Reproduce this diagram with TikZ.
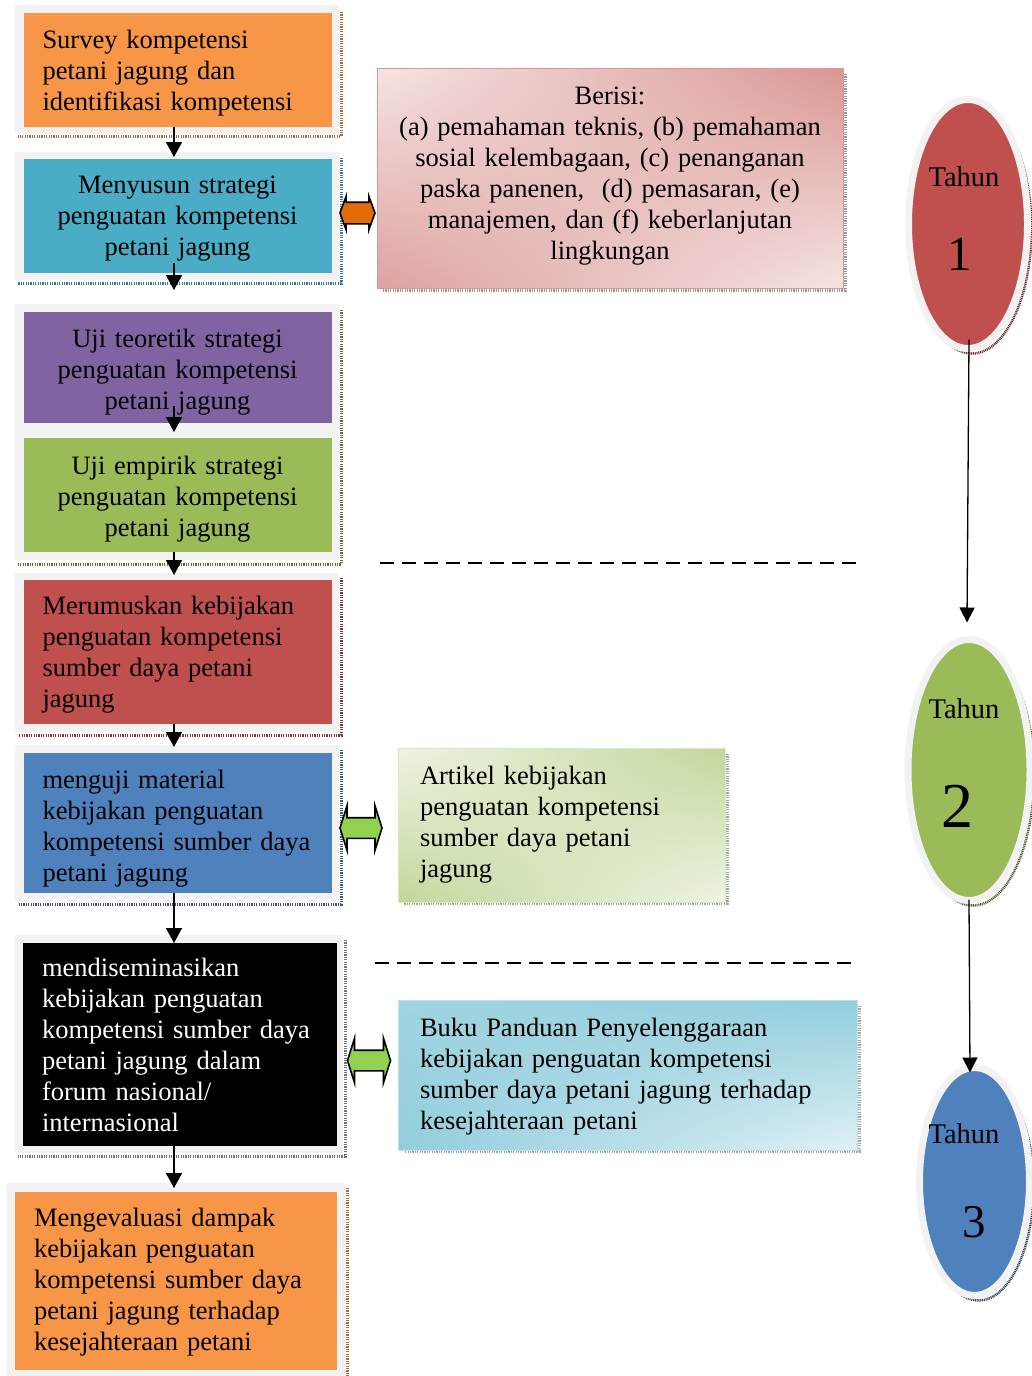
\documentclass[tikz,border=0pt]{standalone}
\usepackage{fontspec}
\setmainfont{Liberation Serif}
\usetikzlibrary{shapes.arrows,shapes.geometric,arrows.meta,shadings}
\definecolor{cOrange}{HTML}{F79646}
\definecolor{cTeal}{HTML}{4BACC6}
\definecolor{cPurple}{HTML}{8064A2}
\definecolor{cGreen}{HTML}{9BBB59}
\definecolor{cRed}{HTML}{C0504D}
\definecolor{cBlue}{HTML}{4F81BD}
\definecolor{cFrame}{HTML}{F2F2F2}
\definecolor{cArrOrange}{HTML}{E36C09}
\definecolor{cArrGreen}{HTML}{92D050}
\definecolor{pinkD}{HTML}{D99694}
\definecolor{pinkL}{HTML}{F5E4E3}
\definecolor{greenD}{HTML}{C3D69B}
\definecolor{greenL}{HTML}{EEF4E3}
\definecolor{blueD}{HTML}{92CDDC}
\definecolor{blueL}{HTML}{E0F1F6}
\begin{document}
\begin{tikzpicture}[x=1pt,y=-1pt,
  every node/.style={inner sep=0pt, outer sep=0pt},
  box/.style={rectangle},
  txt/.style={font=\fontsize{26.5}{31}\selectfont, text=black},
  ltxt/.style={txt, align=left},
  ctxt/.style={txt, align=center},
  frame/.style={fill=cFrame},
  shadowline/.style={line width=3pt, dash pattern=on 1.2pt off 1.2pt},
  arr/.style={line width=1.6pt, -{Triangle[length=15pt,width=16pt]}},
  varr/.style={line width=1.3pt, -{Triangle[length=15pt,width=15pt]}},
  darrow/.style={double arrow, draw=black, line width=1.6pt, double arrow head indent=0pt},
  yearshape/.style={ellipse, draw=cFrame, line width=7pt},
  yeartext/.style={font=\fontsize{28.5}{34}\selectfont, anchor=base},
]
\useasboundingbox (0,0) rectangle (1032,1376);

% ---------- frames and shadows (left column) ----------
\draw[shadowline, cOrange!70!black] (341,12) -- (341,136) -- (18,136);
\fill[frame] (15,5) rectangle (339,133);
\draw[shadowline, cTeal!70!black] (341,158) -- (341,283) -- (18,283);
\fill[frame] (15,152) rectangle (339,280);
\draw[shadowline, cGreen!60!black] (341,310) -- (341,564) -- (18,564);
\fill[frame] (15,304) rectangle (339,560);
\draw[shadowline, cRed!70!black] (341,578) -- (341,735) -- (18,735);
\fill[frame] (15,573) rectangle (339,732);
\draw[shadowline, cBlue!70!black] (341,750) -- (341,904) -- (18,904);
\fill[frame] (15,745) rectangle (339,901);
\draw[shadowline, black!55] (345,940) -- (345,1156) -- (18,1156);
\fill[frame] (15,935) rectangle (343,1153);
\draw[shadowline, cOrange!70!black] (347,1188) -- (347,1376);
\fill[frame] (7,1183) rectangle (345,1376);

% ---------- left column boxes ----------
\node[box, fill=cOrange, minimum width=308pt, minimum height=114pt] (b1) at (177.5,69.5) {};
\node[ltxt, text width=270pt] (b1t) at ([yshift=-4pt]b1.center)
  {Survey kompetensi\\petani jagung dan\\identifikasi kompetensi};
\node[box, fill=cTeal, minimum width=308pt, minimum height=114pt] (b2) at (177.5,216) {};
\node[ctxt, text width=270pt] (b2t) at ([yshift=-3pt]b2.center)
  {Menyusun strategi\\penguatan kompetensi\\petani jagung};
\node[box, fill=cPurple, minimum width=308pt, minimum height=111pt] (b3) at (177.5,367.5) {};
\node[ctxt, text width=270pt] (b3t) at ([yshift=-5pt]b3.center)
  {Uji teoretik strategi\\penguatan kompetensi\\petani jagung};
\node[box, fill=cGreen, minimum width=308pt, minimum height=114pt] (b4) at (177.5,495) {};
\node[ctxt, text width=270pt] (b4t) at ([yshift=-4pt]b4.center)
  {Uji empirik strategi\\penguatan kompetensi\\petani jagung};
\node[box, fill=cRed, minimum width=308pt, minimum height=144pt] (b5) at (177.5,652) {};
\node[ltxt, text width=270pt] (b5t) at ([yshift=-3pt]b5.center)
  {Merumuskan kebijakan\\penguatan kompetensi\\sumber daya petani\\jagung};
\node[box, fill=cBlue, minimum width=308pt, minimum height=140pt] (b6) at (177.5,823) {};
\node[ltxt, text width=270pt] (b6t) at ([yshift=-6pt]b6.center)
  {menguji material\\kebijakan penguatan\\kompetensi sumber daya\\petani jagung};
\node[box, fill=black, minimum width=314pt, minimum height=203pt] (b7) at (180,1044.5) {};
\node[ltxt, text=white, text width=276pt] (b7t) at (b7.center)
  {mendiseminasikan\\kebijakan penguatan\\kompetensi sumber daya\\petani jagung dalam\\forum nasional/\\internasional};
\node[box, fill=cOrange, minimum width=322pt, minimum height=178pt] (b8) at (176,1281) {};
\node[ltxt, text width=284pt] (b8t) at ([yshift=-1pt]b8.center)
  {Mengevaluasi dampak\\kebijakan penguatan\\kompetensi sumber daya\\petani jagung terhadap\\kesejahteraan petani};

% ---------- vertical connectors (left) ----------
\draw[arr] ([xshift=-3.5pt]b1.south) -- ([xshift=-3.5pt,yshift=2pt]b2.north);
\draw[arr] ([xshift=-3.5pt,yshift=10pt]b2.south) -- ([xshift=-3.5pt,yshift=22pt]b3.north);
\draw[arr] ([xshift=-3.5pt,yshift=17pt]b3.south) -- ([xshift=-3.5pt,yshift=6pt]b4.north);
\draw[arr] ([xshift=-3.5pt]b4.south) -- ([xshift=-3.5pt,yshift=5pt]b5.north);
\draw[arr] ([xshift=-3.5pt]b5.south) -- ([xshift=-3.5pt,yshift=6pt]b6.north);
\draw[arr] ([xshift=-3.5pt]b6.south) -- ([xshift=-6pt]b7.north);
\draw[arr] ([xshift=-6pt]b7.south) -- ([xshift=-2pt,yshift=4pt]b8.north);

% ---------- right text boxes ----------
\draw[shadowline, black!40] (845,74) -- (845,290) -- (383,290);
\node[box, draw=pinkD, line width=1pt, minimum width=466pt, minimum height=220pt,
  upper left=pinkL, upper right=pinkD, lower left=pinkD!85!pinkL, lower right=pinkL] (r1) at (610,178) {};
\node[ctxt, text width=440pt] (r1t) at ([yshift=2pt]r1.center)
  {Berisi:\\(a) pemahaman teknis, (b) pemahaman\\sosial kelembagaan, (c) penanganan\\paska panenen,\ \ (d) pemasaran, (e)\\manajemen, dan (f) keberlanjutan\\lingkungan};
\draw[shadowline, black!35] (727,754) -- (727,903) -- (404,903);
\node[box, draw=greenD!60, line width=1pt, minimum width=327pt, minimum height=154pt,
  upper left=greenL, upper right=greenD, lower left=greenD, lower right=greenL] (r2) at (561.5,825) {};
\node[ltxt, text width=283pt] (r2t) at (r2.center)
  {Artikel kebijakan\\penguatan kompetensi\\sumber daya petani\\jagung};
\draw[shadowline, black!35] (859,1006) -- (859,1151) -- (404,1151);
\node[box, draw=blueD!60, line width=1pt, minimum width=459pt, minimum height=150pt,
  upper left=blueD!80!blueL, upper right=blueD, lower left=blueD, lower right=blueL] (r3) at (627.5,1075) {};
\node[ltxt, text width=415pt] (r3t) at ([yshift=-2pt]r3.center)
  {Buku Panduan Penyelenggaraan\\kebijakan penguatan kompetensi\\sumber daya petani jagung terhadap\\kesejahteraan petani};

% ---------- double arrows ----------
\node[darrow, fill=cArrOrange, minimum height=35pt,
  double arrow head extend=6pt, double arrow tip angle=140] (d1) at (357.5,213) {\rule{0pt}{20pt}};
\node[darrow, fill=cArrGreen, minimum height=42pt,
  double arrow head extend=12pt, double arrow tip angle=145] (d2) at (361,828) {\rule{0pt}{19pt}};
\node[darrow, fill=cArrGreen, minimum height=43pt,
  double arrow head extend=12pt, double arrow tip angle=145] (d3) at (369,1060.5) {\rule{0pt}{19pt}};

% ---------- dashed separators ----------
\draw[line width=1.8pt, dash pattern=on 14pt off 8pt] (380,563) -- (858,563);
\draw[line width=1.8pt, dash pattern=on 14pt off 8pt] (375,963) -- (853,963);

% ---------- year ellipses ----------
\draw[line width=2.5pt, cRed!55!black, dash pattern=on 1pt off 0.8pt] (972,229) ellipse (59.5pt and 124.5pt);
\node[yearshape, fill=cRed, minimum width=119pt, minimum height=249pt] (e1) at (968,224) {};
\node[yeartext] (t1) at (964,186) {Tahun};
\node[yeartext, font=\fontsize{49}{55}\selectfont] (n1) at (960,270) {1};

\draw[line width=2.5pt, cGreen!50!black, dash pattern=on 1pt off 0.8pt] (973,775) ellipse (61pt and 130.5pt);
\node[yearshape, fill=cGreen, minimum width=122pt, minimum height=261pt] (e2) at (969,770) {};
\node[yeartext] (t2) at (964,718) {Tahun};
\node[yeartext, font=\fontsize{64}{70}\selectfont] (n2) at (957,827) {2};

\draw[line width=2.5pt, cBlue!50!black, dash pattern=on 1pt off 0.8pt] (978.5,1186.5) ellipse (55pt and 114pt);
\node[yearshape, fill=cBlue, minimum width=110pt, minimum height=228pt] (e3) at (974.5,1181.5) {};
\node[yeartext] (t3) at (964,1143) {Tahun};
\node[yeartext, font=\fontsize{47}{53}\selectfont] (n3) at (974,1237) {3};

\draw[varr] ([xshift=1pt,yshift=9pt]e1.south) -- ([xshift=-2pt,yshift=17pt]e2.north);
\draw[varr] ([yshift=1pt]e2.south) -- ([xshift=-4.5pt,yshift=-5pt]e3.north);
\end{tikzpicture}
\end{document}
